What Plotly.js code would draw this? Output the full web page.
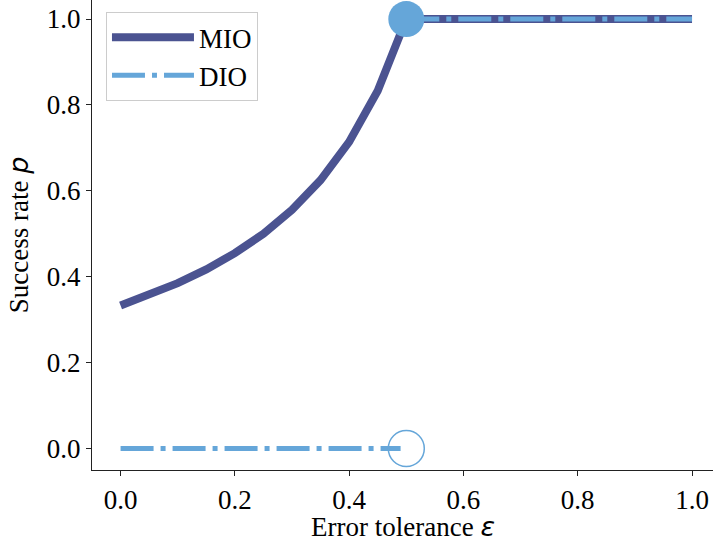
<!DOCTYPE html>
<html>
<head>
<meta charset="utf-8">
<script src="https://cdn.plot.ly/plotly-3.0.1.min.js"></script>
<style>body{margin:0;padding:0;background:#fff}#chart{width:713px;height:548px}</style>
</head>
<body>
<div id="chart"></div>
<script>
// Data
const mioEps = [0.0, 0.05, 0.10, 0.15, 0.20, 0.25, 0.30, 0.35, 0.40, 0.45, 0.50, 1.0];
const mioP   = [0.333, 0.357, 0.385, 0.417, 0.455, 0.500, 0.556, 0.625, 0.714, 0.833, 1.0, 1.0];
const dioLowEps = [0.0, 0.49];
const dioLowP   = [0.0, 0.0];
const dioHighEps = [0.5, 1.0];
const dioHighP   = [1.0, 1.0];
const filledPt = {x: [0.5], y: [1.0]};
const hollowPt = {x: [0.5], y: [0.0]};
const xTicks = [0.0, 0.2, 0.4, 0.6, 0.8, 1.0];
const yTicks = [0.0, 0.2, 0.4, 0.6, 0.8, 1.0];

const MIO_COLOR = '#4b5391';
const DIO_COLOR = '#65a6d9';
const DASH = '33px,7px,5px,7px';

const traces = [
  {x: mioEps, y: mioP, mode: 'lines', name: 'MIO',
   line: {color: MIO_COLOR, width: 8}},
  {x: dioLowEps, y: dioLowP, mode: 'lines', name: 'DIO',
   line: {color: DIO_COLOR, width: 5, dash: DASH}},
  {x: dioHighEps, y: dioHighP, mode: 'lines', name: 'DIO', showlegend: false,
   line: {color: DIO_COLOR, width: 5, dash: DASH}},
  {x: filledPt.x, y: filledPt.y, mode: 'markers', showlegend: false,
   marker: {color: DIO_COLOR, size: 36, line: {width: 0}}},
  {x: hollowPt.x, y: hollowPt.y, mode: 'markers', showlegend: false,
   marker: {color: 'rgba(0,0,0,0)', size: 36, line: {color: DIO_COLOR, width: 1.5}}}
];

const tickFont = {family: 'Liberation Serif, Times New Roman, serif', size: 27, color: '#000'};
const greek = (s) => '<span style="font-family:DejaVu Sans;font-style:italic">' + s + '</span>';

const layout = {
  width: 713, height: 548,
  margin: {l: 92, r: 0, t: 0, b: 78, pad: 0},
  paper_bgcolor: '#fff', plot_bgcolor: '#fff',
  showlegend: true,
  legend: {x: 0.0225, y: 0.974, xanchor: 'left', yanchor: 'top',
           bgcolor: '#fff', bordercolor: '#cccccc', borderwidth: 1,
           font: {family: 'Liberation Serif, serif', size: 27, color: '#000'},
           itemwidth: 82, tracegroupgap: 0},
  xaxis: {range: [-0.05, 1.0367], tickvals: xTicks, ticktext: xTicks.map(v => v.toFixed(1)),
          showgrid: false, zeroline: false, showline: true, linecolor: '#222', linewidth: 1.2,
          ticks: 'outside', ticklen: 5, tickwidth: 1, tickcolor: '#222',
          tickfont: tickFont, mirror: false},
  yaxis: {range: [-0.05, 1.0443], tickvals: yTicks, ticktext: yTicks.map(v => v.toFixed(1)),
          showgrid: false, zeroline: false, showline: true, linecolor: '#222', linewidth: 1.2,
          ticks: 'outside', ticklen: 5, tickwidth: 1, tickcolor: '#222',
          tickfont: tickFont,
          title: {text: 'Success rate ' + greek('p'), font: tickFont, standoff: 10}},
  annotations: [{
    text: 'Error tolerance ' + greek('ε'), xref: 'paper', yref: 'paper',
    x: 0.5, y: 0, xanchor: 'center', yanchor: 'middle', yshift: -56,
    showarrow: false, font: tickFont
  }]
};

Plotly.newPlot('chart', traces, layout, {displayModeBar: false, staticPlot: true});
</script>
</body>
</html>
